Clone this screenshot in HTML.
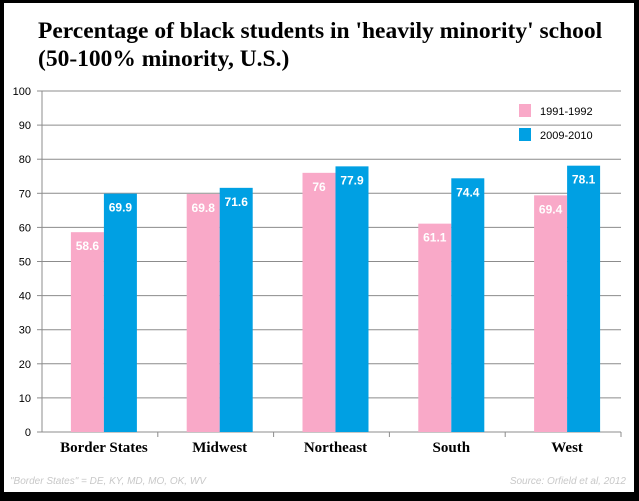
<!DOCTYPE html>
<html><head><meta charset="utf-8"><style>
body{margin:0;background:#000;}
#wrap{position:absolute;left:0;top:0;width:639px;height:501px;background:#000;}
#inner{position:absolute;left:4px;top:3px;width:630px;height:489px;background:#fff;}
</style></head><body>
<div id="wrap">
<div id="inner"></div>
<svg id="chart" width="639" height="501" style="position:absolute;left:0;top:0">
<text x="38" y="38" font-family="Liberation Serif, serif" font-weight="bold" font-size="23.5">Percentage of black students in 'heavily minority' school</text>
<text x="38" y="66" font-family="Liberation Serif, serif" font-weight="bold" font-size="23.5">(50-100% minority, U.S.)</text>
<text x="10" y="484" font-family="Liberation Sans, sans-serif" font-style="italic" font-size="10" fill="#c8c8c8">"Border States" = DE, KY, MD, MO, OK, WV</text>
<text x="626" y="484" text-anchor="end" font-family="Liberation Sans, sans-serif" font-style="italic" font-size="10" fill="#c8c8c8">Source: Orfield et al, 2012</text>
</svg>
</div>
<script>
const categories=["Border States","Midwest","Northeast","South","West"];
const series1991=[58.6,69.8,76,61.1,69.4];
const series2009=[69.9,71.6,77.9,74.4,78.1];
const yTicks=[0,10,20,30,40,50,60,70,80,90,100];
const seriesNames=["1991-1992","2009-2010"];
const svg=document.getElementById('chart');
const NS='http://www.w3.org/2000/svg';
const X0=42,X1=621,Y0=432,Y1=91;
const y=v=>Y0-(v-0)/100*(Y0-Y1);
const bw=(X1-X0)/categories.length;
function mk(t,a){const e=document.createElementNS(NS,t);for(const k in a)e.setAttribute(k,a[k]);svg.appendChild(e);return e;}
yTicks.forEach(t=>{
 if(t>0){const g=mk('line',{x1:X0,x2:X1,y1:y(t),y2:y(t),stroke:'#8c8c8c','stroke-width':1});
 
 }
 const tk=mk('line',{x1:X0-5,x2:X0,y1:y(t),y2:y(t),stroke:'#8c8c8c'});
 
 
 const l=mk('text',{x:31,y:y(t)+4,'text-anchor':'end','font-family':'Liberation Sans, sans-serif','font-size':11,fill:'#000'});
 l.textContent=t;
 
 
});
const ax=mk('line',{x1:X0,x2:X0,y1:Y1,y2:Y0,stroke:'#8c8c8c'});


const xa=mk('line',{x1:X0,x2:X1,y1:Y0,y2:Y0,stroke:'#8c8c8c'});


const colors=['#f9a9c8','#00a0e3'];
const barW=33;
categories.forEach((c,i)=>{
 const cx=X0+bw*(i+0.5);
 const tk=mk('line',{x1:X0+bw*(i+1),x2:X0+bw*(i+1),y1:Y0,y2:Y0+5,stroke:'#8c8c8c'});
 
 
 [series1991[i],series2009[i]].forEach((v,j)=>{
  const bx=cx-barW+j*barW+4;
  const r=mk('rect',{x:bx,y:y(v),width:barW,height:Y0-y(v),fill:colors[j]});
  
  
  const t=mk('text',{x:bx+barW/2,y:y(v)+18,'text-anchor':'middle','font-family':'Liberation Sans, sans-serif','font-weight':'bold','font-size':12,fill:'#fff'});
  t.textContent=v;
  
  
 });
 const l=mk('text',{x:cx+4,y:452,'text-anchor':'middle','font-family':'Liberation Serif, serif','font-weight':'bold','font-size':15,fill:'#000'});
 l.textContent=c;
 
 
});
seriesNames.forEach((n,j)=>{
 const ly=104+j*24;
 const s=mk('rect',{x:519,y:ly,width:12,height:13,fill:colors[j]});
 
 
 const t=mk('text',{x:540,y:ly+11,'font-family':'Liberation Sans, sans-serif','font-size':11,fill:'#000'});
 t.textContent=n;
 
 
});
</script>
</body></html>
